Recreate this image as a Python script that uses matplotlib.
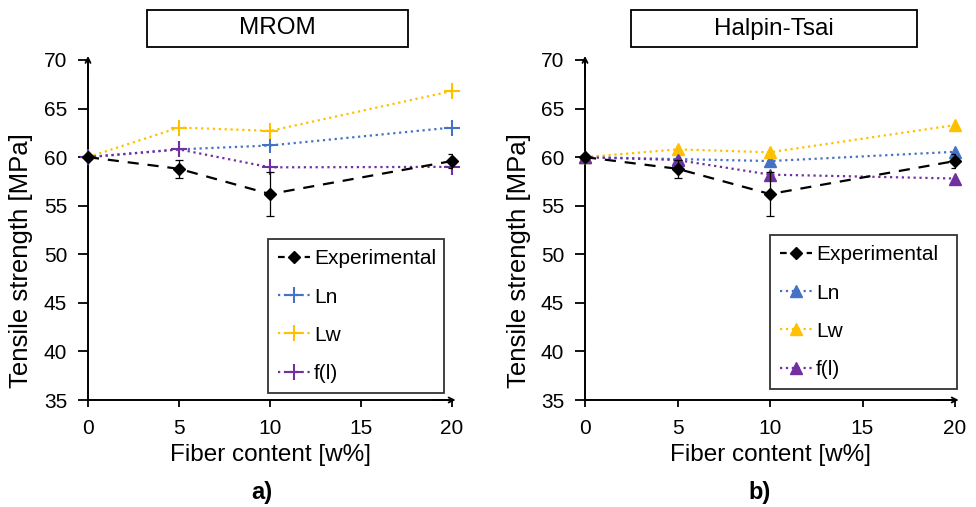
import matplotlib
matplotlib.use("Agg")
import matplotlib.pyplot as plt
from matplotlib.patches import Rectangle
from matplotlib.lines import Line2D

plt.rcParams['font.family'] = ['Liberation Sans', 'DejaVu Sans']

fiber = [0, 5, 10, 20]
exp_vals = [60.0, 58.8, 56.2, 59.6]
exp_err = [0.2, 0.9, 2.25, 0.7]

mrom_ln = [60.0, 60.8, 61.2, 63.05]
mrom_lw = [60.0, 63.05, 62.7, 66.8]
mrom_fl = [60.0, 60.8, 58.95, 59.0]

ht_ln = [60.0, 59.8, 59.6, 60.55]
ht_lw = [60.0, 60.8, 60.5, 63.3]
ht_fl = [60.0, 59.7, 58.2, 57.8]

series_labels = ['Experimental', 'Ln', 'Lw', 'f(l)']
panel_titles = ['MROM', 'Halpin-Tsai']
panel_tags = ['a)', 'b)']
xlabel = 'Fiber content [w%]'
ylabel = 'Tensile strength [MPa]'
xticks = [0, 5, 10, 15, 20]
yticks = [35, 40, 45, 50, 55, 60, 65, 70]

c_ln = '#4472C4'
c_lw = '#FFC000'
c_fl = '#7030A0'

W, H = 976, 507
fig = plt.figure(figsize=(W / 100, H / 100), dpi=100)


def fx(px):
    return px / W


def fy(py):
    return 1 - py / H


def make_panel(left, right, data, marker, msize, mew, title, box, tag, tagx, labx, ylabx, leg_box):
    ax = fig.add_axes([fx(left), fy(400), fx(right - left), fy(60) - fy(400)])
    ln, lw, fl = data
    for vals, col, lab in [(ln, c_ln, series_labels[1]), (lw, c_lw, series_labels[2]),
                           (fl, c_fl, series_labels[3])]:
        ax.plot(fiber, vals, linestyle=':', color=col, lw=1.6, marker=marker, ms=msize, mew=mew,
                mfc=col, mec=col, label=lab, zorder=3, clip_on=False)
    eb = ax.errorbar(fiber, exp_vals, yerr=exp_err, color='black', lw=1.6, linestyle=(0, (5, 4)),
                     marker='D', ms=6.5, ecolor='black', elinewidth=0.9, capsize=3, capthick=0.9,
                     zorder=4)
    for art in eb.lines[0:1]:
        art.set_clip_on(False)
    handles = [Line2D([], [], color='black', lw=1.6, linestyle=(0, (3, 3)), marker='D', ms=6.5)]
    for col in [c_ln, c_lw, c_fl]:
        handles.append(Line2D([], [], color=col, lw=1.6, linestyle=':', marker=marker, ms=msize,
                              mew=mew, mfc=col, mec=col))
    ax.set_xlim(0, 20)
    ax.set_ylim(35, 70)
    ax.set_xticks(xticks)
    ax.set_yticks(yticks)
    for s in ['top', 'right']:
        ax.spines[s].set_visible(False)
    for s in ['left', 'bottom']:
        ax.spines[s].set_linewidth(1.4)
    ax.tick_params(axis='y', direction='out', length=7, width=1.3, labelsize=15, pad=8)
    ax.tick_params(axis='x', direction='out', length=5, width=1.3, labelsize=15, pad=9)
    ax.annotate('', xy=(0, 1.012), xytext=(0, 0.95), xycoords='axes fraction',
                arrowprops=dict(arrowstyle='->', lw=1.3, color='black', mutation_scale=9,
                                shrinkA=0, shrinkB=0))
    ax.annotate('', xy=(1.01, 0), xytext=(0.95, 0), xycoords='axes fraction',
                arrowprops=dict(arrowstyle='->', lw=1.3, color='black', mutation_scale=9,
                                shrinkA=0, shrinkB=0))
    lx0, ly0, lx1, ly1 = leg_box
    leg = fig.legend(handles, series_labels, loc='upper left',
                     bbox_to_anchor=(fx(lx0), fy(ly1), fx(lx1 - lx0), fy(ly0) - fy(ly1)),
                     mode='expand', fontsize=15, frameon=True, fancybox=False,
                     edgecolor='black', handlelength=1.5, handletextpad=0.2,
                     labelspacing=0.92, borderpad=0.5, borderaxespad=0)
    leg.get_frame().set_linewidth(1.3)
    bx0, by0, bx1, by1 = box
    fig.add_artist(Rectangle((fx(bx0), fy(by1)), fx(bx1 - bx0), fy(by0) - fy(by1),
                             transform=fig.transFigure, fill=False, edgecolor='black', lw=1.3))
    fig.text(fx((bx0 + bx1) / 2), fy((by0 + by1) / 2), title, ha='center', va='center',
             fontsize=17.5)
    fig.text(fx(labx), fy(455), xlabel, ha='center', va='center', fontsize=17.5)
    fig.text(fx(ylabx), fy(261), ylabel, ha='center', va='center', rotation=90, fontsize=18.5)
    fig.text(fx(tagx), fy(492), tag, ha='center', va='center', fontsize=17, fontweight='bold')
    return ax


make_panel(88, 452, (mrom_ln, mrom_lw, mrom_fl), '+', 11, 1.5, panel_titles[0],
           (147, 10, 408, 47), panel_tags[0], 262, 271, 21, (268, 239, 444, 387))
make_panel(585, 955, (ht_ln, ht_lw, ht_fl), '^', 8.5, 1, panel_titles[1],
           (631, 10, 917, 47), panel_tags[1], 760, 771, 519, (770, 235, 957, 387))

fig.savefig('out.png', dpi=100)
